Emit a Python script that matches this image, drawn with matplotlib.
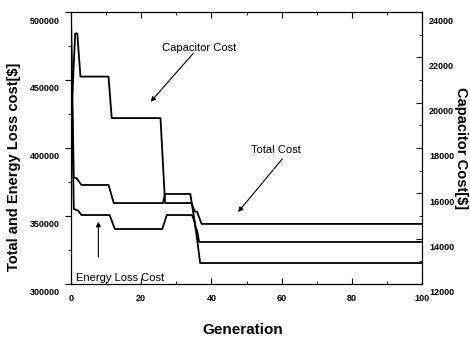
import matplotlib
matplotlib.use("Agg")
import matplotlib.pyplot as plt
import matplotlib.transforms as mtransforms
from matplotlib.ticker import MultipleLocator

plt.rcParams['font.family'] = ['Liberation Sans', 'DejaVu Sans']

# generation breakpoints and values
total_gen = [0, 0.8, 1.5, 3, 10.7, 12.2, 26.2, 26.8, 34, 35.6, 35.9, 36.5, 100]
total_cost = [500000, 378000, 378000, 372800, 372800, 359500, 359500,
              366200, 366200, 339700, 339700, 330900, 330900]

energy_gen = [0, 0.8, 2, 3, 11, 12.5, 26, 27.3, 34.5, 35.3, 36.8, 100]
energy_cost = [480000, 355100, 354000, 350700, 350700, 340400, 340400,
               350700, 350700, 345000, 315400, 315400]

cap_gen = [0, 1.2, 1.8, 2.7, 10.7, 11.6, 25.5, 26.8, 34.3, 35.3, 35.9, 37.2, 100]
cap_cost = [19000, 23050, 23050, 21150, 21150, 19320, 19320, 15570, 15570,
            15190, 15190, 14650, 14650]


def arrow(ax, tip, start):
    ax.annotate("", xy=tip, xytext=start,
                arrowprops=dict(arrowstyle="-|>", color="black", lw=0.8,
                                mutation_scale=7, shrinkA=0, shrinkB=0))


def main():
    fig = plt.figure(figsize=(4.7, 3.48), dpi=100)
    ax = fig.add_axes([0.151, 0.184, 0.747, 0.7815])
    ax2 = ax.twinx()

    ax.plot(total_gen, total_cost, color="black", lw=1.3)
    ax.plot(energy_gen, energy_cost, color="black", lw=1.3)
    ax2.plot(cap_gen, cap_cost, color="black", lw=1.3)

    ax.set_xlim(0, 100)
    ax.set_ylim(300000, 500000)
    ax2.set_ylim(12000, 24000)

    ax.xaxis.set_major_locator(MultipleLocator(20))
    ax.xaxis.set_minor_locator(MultipleLocator(10))
    ax.yaxis.set_major_locator(MultipleLocator(50000))
    ax.yaxis.set_minor_locator(MultipleLocator(25000))
    ax2.yaxis.set_major_locator(MultipleLocator(2000))
    ax2.yaxis.set_minor_locator(MultipleLocator(1000))

    ax.tick_params(axis="x", which="both", direction="in", top=True,
                   labelsize=6.5, pad=7)
    ax.tick_params(axis="x", which="major", length=4)
    ax.tick_params(axis="x", which="minor", length=2.5)
    ax.tick_params(axis="y", which="both", direction="out", labelsize=6.5,
                   pad=4)
    ax.tick_params(axis="y", which="major", length=4)
    ax.tick_params(axis="y", which="minor", length=2.5)
    ax2.tick_params(axis="y", which="both", direction="in", labelsize=6.5,
                    pad=5)
    ax2.tick_params(axis="y", which="major", length=4)
    ax2.tick_params(axis="y", which="minor", length=2.5)

    # tick labels sit a little below their ticks in the original
    shift = mtransforms.ScaledTranslation(0, -8 / 100, fig.dpi_scale_trans)
    for lab in ax.get_yticklabels() + ax2.get_yticklabels():
        lab.set_transform(lab.get_transform() + shift)
        lab.set_fontweight("bold")
    for lab in ax.get_xticklabels():
        lab.set_fontweight("bold")

    ax.set_xlabel("Generation", fontsize=11, fontweight="bold")
    ax.xaxis.set_label_coords(0.49, -0.145)
    ax.set_ylabel("Total and Energy Loss cost[$]", fontsize=10.5,
                  fontweight="bold")
    ax.yaxis.set_label_coords(-0.143, 0.43)
    ax2.set_ylabel("Capacitor Cost[$]", fontsize=10.5, fontweight="bold",
                   rotation=-90, va="center")
    ax2.yaxis.set_label_coords(1.11, 0.50)

    ax.text(36.5, 473500, "Capacitor Cost", fontsize=8, ha="center",
            va="center")
    arrow(ax, (22.7, 434000), (34.8, 469500))

    ax.text(58.4, 398500, "Total Cost", fontsize=8, ha="center",
            va="center")
    arrow(ax, (47.6, 352900), (60.2, 392000))

    arrow(ax, (7.8, 345800), (7.8, 319800))
    ax.text(1.5, 304500, "Energy Loss Cost", fontsize=8, ha="left",
            va="center")

    fig.savefig("out.png", dpi=100)


if __name__ == "__main__":
    main()
